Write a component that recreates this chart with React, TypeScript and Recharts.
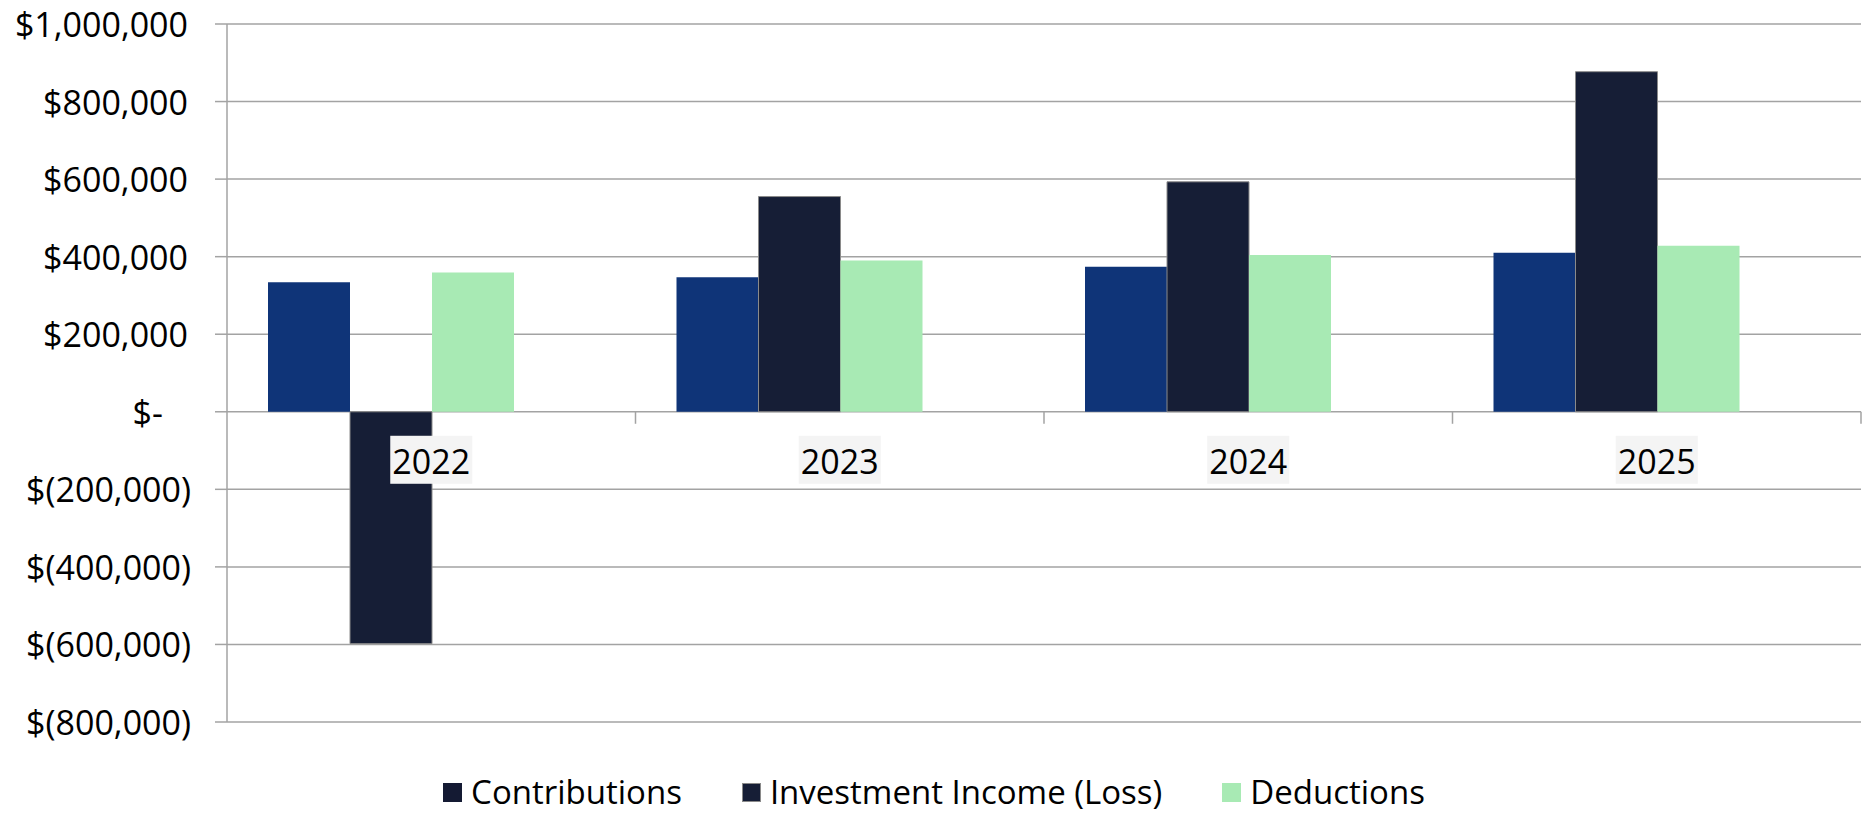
import { BarChart, Bar, XAxis, YAxis, CartesianGrid } from 'recharts'

const years = ['2022', '2023', '2024', '2025']
const contributions = [334000, 347000, 374000, 410000]
const investmentIncome = [-598000, 555000, 593000, 877000]
const deductions = [359000, 390000, 404000, 428000]
const yTicks = [-800000, -600000, -400000, -200000, 0, 200000, 400000, 600000, 800000, 1000000]

const data = years.map((year, i) => ({
  year,
  contributions: contributions[i],
  investment: investmentIncome[i],
  deductions: deductions[i],
  spacer: null,
}))

const W = 1868
const H = 814
const MARGIN = { top: 24, right: 7, bottom: 91, left: 0 }
const Y_AXIS_W = 227
const PLOT_W = W - Y_AXIS_W - MARGIN.right
const PLOT_H = H - MARGIN.top - MARGIN.bottom - 1
const Y_MIN = -800000
const Y_MAX = 1000000
const FONT = "'Open Sans', sans-serif"
const GRID = '#a3a3a3'

const COLORS = {
  contributions: '#0f3478',
  investment: '#161e36',
  deductions: '#a8eab4',
}

const legendItems = [
  { label: 'Contributions', color: '#141a33', border: 'none' },
  { label: 'Investment Income (Loss)', color: COLORS.investment, border: '1px solid #8a8a8a' },
  { label: 'Deductions', color: COLORS.deductions, border: 'none' },
]

const fmt = (v: number) => {
  if (v === 0) return '$-'
  const s = Math.abs(v).toLocaleString('en-US')
  return v < 0 ? `$(${s})` : `$${s}`
}

const YTick = ({ x, y, payload }: any) => {
  const v = payload.value
  const shift = v === 0 ? 28 : v > 0 ? 3 : 0
  return (
    <text x={x - shift} y={y} textAnchor="end" dominantBaseline="central" fontFamily={FONT} fontSize={34} fill="#000">
      {fmt(v)}
    </text>
  )
}

// category labels sit under the zero line, not at the bottom of the plot
const XTick = ({ x, y, payload }: any) => {
  const zeroY = y - (PLOT_H * (0 - Y_MIN)) / (Y_MAX - Y_MIN)
  const band = PLOT_W / years.length
  return (
    <g>
      <line x1={x + band / 2} x2={x + band / 2} y1={zeroY} y2={zeroY + 12} stroke={GRID} strokeWidth={1.5} />
      <rect x={x - 41} y={zeroY + 24} width={82} height={48} fill="#f4f4f4" />
      <text x={x} y={zeroY + 49} textAnchor="middle" dominantBaseline="central" fontFamily={FONT} fontSize={34} fill="#000">
        {payload.value}
      </text>
    </g>
  )
}

export default function App() {
  return (
    <div style={{ position: 'fixed', left: 0, top: 0, width: W, height: H, background: '#fff' }}>
      <BarChart width={W} height={H} data={data} margin={MARGIN} barCategoryGap={41} barGap={0}>
        <CartesianGrid vertical={false} stroke={GRID} strokeWidth={1.5} />
        <XAxis dataKey="year" axisLine={false} tickLine={false} tickSize={0} tickMargin={0} height={1} tick={<XTick />} interval={0} />
        <YAxis
          width={Y_AXIS_W}
          domain={[Y_MIN, Y_MAX]}
          ticks={yTicks}
          interval={0}
          axisLine={{ stroke: GRID, strokeWidth: 1.5 }}
          tickLine={{ stroke: GRID, strokeWidth: 1.5 }}
          tickSize={12}
          tickMargin={24}
          tick={<YTick />}
        />
        <Bar dataKey="contributions" fill={COLORS.contributions} isAnimationActive={false} />
        <Bar dataKey="investment" fill={COLORS.investment} stroke="#8a8a8a" strokeWidth={1} isAnimationActive={false} />
        <Bar dataKey="deductions" fill={COLORS.deductions} isAnimationActive={false} />
        <Bar dataKey="spacer" fill="none" isAnimationActive={false} />
      </BarChart>
      <div
        style={{
          position: 'absolute',
          top: 770,
          left: 0,
          width: W,
          display: 'flex',
          justifyContent: 'center',
          alignItems: 'center',
          gap: 60,
          fontFamily: FONT,
          fontSize: 33,
          lineHeight: '44px',
          color: '#000',
        }}
      >
        {legendItems.map((it) => (
          <div key={it.label} style={{ display: 'flex', alignItems: 'center', gap: 9 }}>
            <span style={{ width: 19, height: 19, background: it.color, border: it.border, boxSizing: 'border-box' }} />
            <span>{it.label}</span>
          </div>
        ))}
      </div>
    </div>
  )
}
